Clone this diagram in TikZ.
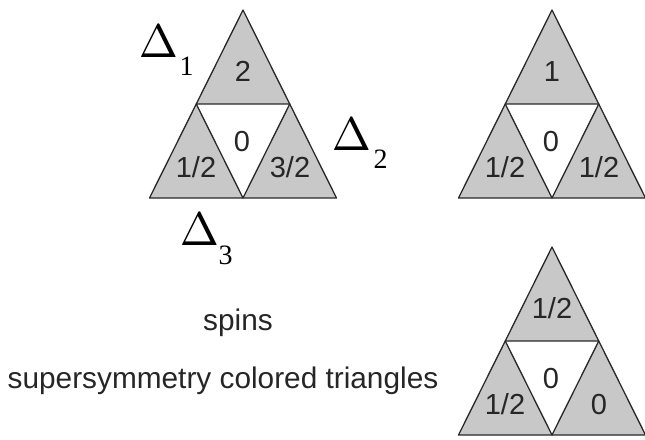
\documentclass[tikz,border=0pt]{standalone}
\usepackage{fontspec}
\usetikzlibrary{calc}
\newfontfamily\lsans{Liberation Sans}
\newfontfamily\lserif{Liberation Serif}
\definecolor{trigray}{RGB}{200,200,200}
\definecolor{triline}{RGB}{40,40,40}
\tikzset{
  edge/.style={draw=triline, line width=1.3pt, line join=round},
  num/.style={font=\lsans\fontsize{29}{29}\selectfont, text=black!85, inner sep=0pt, anchor=base},
  captext/.style={font=\lsans\fontsize{29.8}{30}\selectfont, text=black!85, inner sep=0pt, anchor=base},
  dlt/.style={inner sep=0pt, anchor=base},
  dsub/.style={font=\lserif\fontsize{28}{28}\selectfont, inner sep=0pt, anchor=base},
}
\newcommand\bigdelta{\scalebox{4.7}{$\Delta$}}
\newcommand\sierptri[6]{%
  \coordinate (#1A) at #2;
  \coordinate (#1L) at ($(#1A)+(-93.5,188)$);
  \coordinate (#1R) at ($(#1A)+(93.5,188)$);
  \coordinate (#1ML) at ($(#1A)!0.5!(#1L)$);
  \coordinate (#1MR) at ($(#1A)!0.5!(#1R)$);
  \coordinate (#1MB) at ($(#1L)!0.5!(#1R)$);
  \fill[trigray] (#1A) -- (#1L) -- (#1R) -- cycle;
  \fill[white] (#1ML) -- (#1MR) -- (#1MB) -- cycle;
  \draw[edge] (#1A) -- (#1L) -- (#1R) -- cycle;
  \draw[edge] (#1ML) -- (#1MR) -- (#1MB) -- cycle;
  \node[num] (#1t) at ($(#1A)+(0,71)$) {#3};
  \node[num] (#1m) at ($(#1A)+(-1,141)$) {#4};
  \node[num] (#1l) at ($(#1A)+(-47,167)$) {#5};
  \node[num] (#1r) at ($(#1A)+(47,167)$) {#6};
}
\begin{document}
\begin{tikzpicture}[x=1pt,y=-1pt]
\useasboundingbox (0,0) rectangle (645,439);
\sierptri{a}{(243,10)}{2}{0}{1/2}{3/2}
\sierptri{b}{(552,10)}{1}{0}{1/2}{1/2}
\sierptri{c}{(552,247)}{1/2}{0}{1/2}{0}
\node[dlt] (d1) at (158.5,57) {\bigdelta};
\node[dsub] (s1) at (186.5,75) {1};
\node[dlt] (d2) at (351.5,150) {\bigdelta};
\node[dsub] (s2) at (380.5,168) {2};
\node[dlt] (d3) at (199.5,245) {\bigdelta};
\node[dsub] (s3) at (225.5,264) {3};
\node[captext] (spins) at (238,330) {spins};
\node[captext] (susy) at (223,388) {supersymmetry colored triangles};
\end{tikzpicture}
\end{document}
